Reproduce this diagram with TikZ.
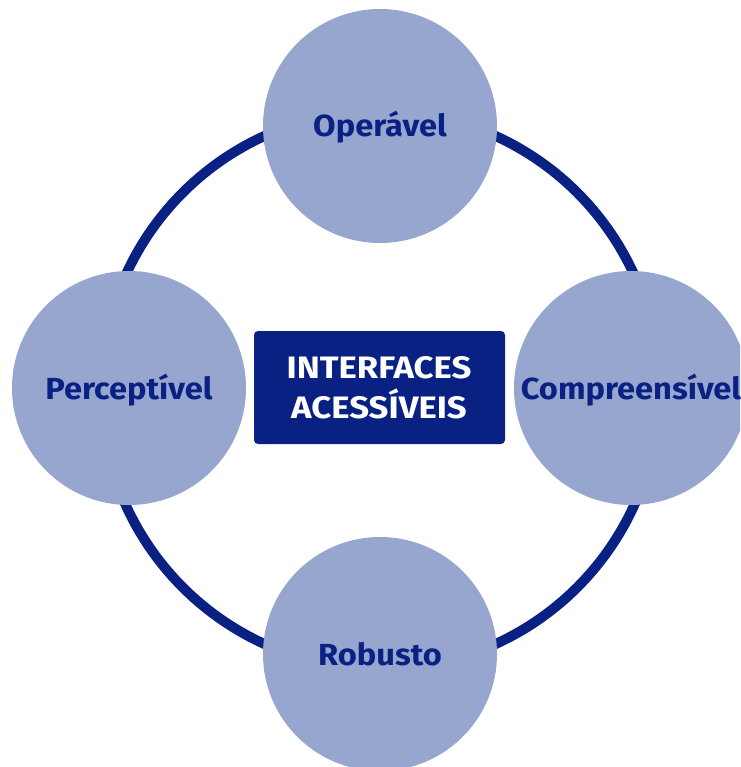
\documentclass[tikz,border=0pt]{standalone}
\usepackage{fontspec}
\setmainfont{Fira Sans}
\newfontfamily\lblfont{Fira Sans}[FakeStretch=1.07]
\newfontfamily\boxfont{Fira Sans}[FakeStretch=1.12]
\definecolor{navy}{HTML}{0A2184}
\definecolor{lightblue}{HTML}{97A6CE}
\tikzset{
  ring/.style={draw=navy, line width=10pt},
  pillar/.style={circle, fill=lightblue, minimum size=234pt, inner sep=0pt},
  pillarlabel/.style={anchor=base, text=navy, font=\lblfont\bfseries\fontsize{30.5}{34}\selectfont, inner sep=0pt},
  centerbox/.style={fill=navy, rounded corners=4pt, minimum width=251pt, minimum height=113pt, inner sep=0pt},
  centerlabel/.style={anchor=base, text=white, font=\boxfont\bfseries\fontsize{31}{35}\selectfont, inner sep=0pt}
}
\begin{document}
\begin{tikzpicture}[x=1pt, y=-1pt]
\useasboundingbox (0,0) rectangle (740,767);
\clip (0,0) rectangle (740,767);
\coordinate (c) at (380,390);
\draw[ring] (c) circle[radius=279pt];
\node[pillar] (top) at (380,126) {};
\node[pillar] (left) at (129,388) {};
\node[pillar] (right) at (631,388) {};
\node[pillar] (bottom) at (380,654) {};
\node[pillarlabel] (ltop) at (380,137) {Operável};
\node[pillarlabel] (lleft) at (129,399) {Perceptível};
\node[pillarlabel] (lright) at (631,399) {Compreensível};
\node[pillarlabel] (lbottom) at (380,665) {Robusto};
\node[centerbox] (box) at (379.5,387.5) {};
\node[centerlabel] (t1) at (379,378) {INTERFACES};
\node[centerlabel] (t2) at (379,418) {ACESSÍVEIS};
\end{tikzpicture}
\end{document}
